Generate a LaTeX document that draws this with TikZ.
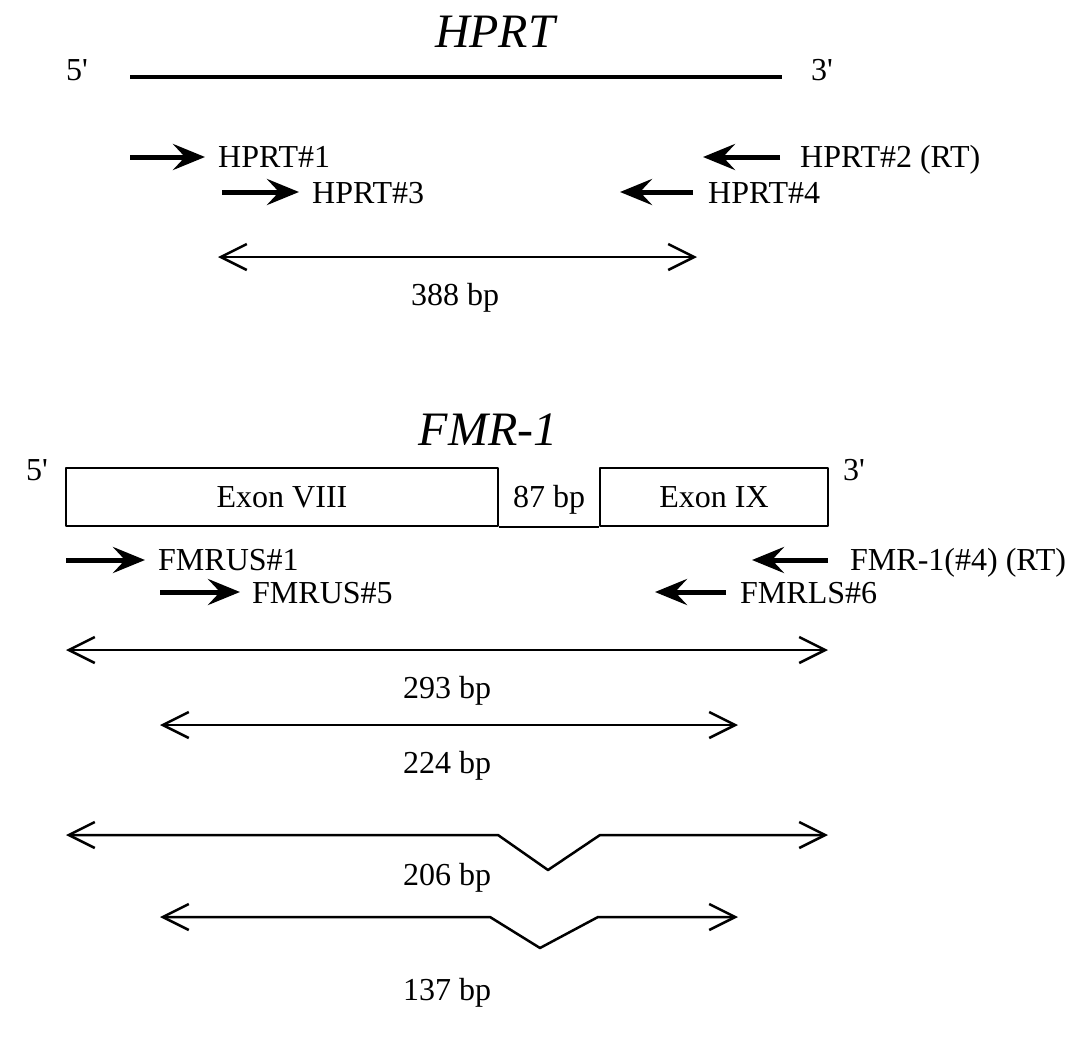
\documentclass[tikz,border=0pt]{standalone}
\usepackage{fontspec}
\setmainfont{Liberation Serif}[Ligatures=TeXOff]
\usetikzlibrary{arrows.meta}

\begin{document}
\begin{tikzpicture}[x=1pt,y=-1pt,line join=round,
		primer/.style={line width=5pt,-{Stealth[length=32pt,width=26pt,inset=12pt]}},
		span/.style={line width=2.5pt,
			{Straight Barb[length=26pt,width=26pt]}-{Straight Barb[length=26pt,width=26pt]}}]
		\tikzstyle{gene}=[font=\fontsize{48}{56}\selectfont\itshape,anchor=base];
		\tikzstyle{lbl}=[font=\fontsize{32}{38}\selectfont,inner sep=0pt];
		\tikzstyle{exon}=[rectangle,draw,line width=1.5pt,minimum height=58pt,
			font=\fontsize{32}{38}\selectfont];
		\useasboundingbox(0,0)rectangle(1088,1039);

		% HPRT
		\node[gene](h0)at(495,47){HPRT};
		\node[lbl,anchor=base](h5)at(77,80){5'};
		\node[lbl,anchor=base](h3)at(822,80){3'};
		\coordinate(hl)at(130,77);\coordinate(hr)at(782,77);
		\draw[line width=4pt](hl)--(hr);

		\node[lbl,anchor=base west](hp1)at(218,167){HPRT\#1};
		\node[lbl,anchor=base west](hp3)at(312,203){HPRT\#3};
		\node[lbl,anchor=base west](hp2)at(800,167){HPRT\#2 (RT)};
		\node[lbl,anchor=base west](hp4)at(708,203){HPRT\#4};
		\coordinate(u1)at(130,157);\coordinate(u3)at(222,192);
		\coordinate(l2)at(703,157);\coordinate(l4)at(620,192);
		\draw[primer,shorten >=13pt](u1)--(u1-|hp1.west);
		\draw[primer,shorten >=13pt](u3)--(u3-|hp3.west);
		\draw[primer,shorten <=20pt](l2-|hp2.west)--(l2);
		\draw[primer,shorten <=15pt](l4-|hp4.west)--(l4);

		\coordinate(s0l)at(218,257);\coordinate(s0r)at(697,257);
		\draw[span](s0l)--(s0r);
		\node[lbl,anchor=base](s0)at(455,305){388 bp};

		% FMR-1
		\node[gene](f0)at(488,445){FMR-1};
		\node[lbl,anchor=base](f5)at(37,480){5'};
		\node[lbl,anchor=base](f3)at(854,480){3'};
		\node[exon,minimum width=432pt](ex8)at(282,497){Exon VIII};
		\node[exon,minimum width=228pt](ex9)at(714,497){Exon IX};
		\draw[line width=1.5pt](ex8.south east)--(ex9.south west);
		\node[lbl,anchor=base](in)at(549,507){87 bp};

		\node[lbl,anchor=base west](fp1)at(158,570){FMRUS\#1};
		\node[lbl,anchor=base west](fp5)at(252,603){FMRUS\#5};
		\node[lbl,anchor=base west](fp4)at(850,570){FMR-1(\#4) (RT)};
		\node[lbl,anchor=base west](fp6)at(740,603){FMRLS\#6};
		\coordinate(v1)at(66,560);\coordinate(v5)at(160,592);
		\coordinate(m4)at(752,560);\coordinate(m6)at(655,592);
		\draw[primer,shorten >=13pt](v1)--(v1-|fp1.west);
		\draw[primer,shorten >=12pt](v5)--(v5-|fp5.west);
		\draw[primer,shorten <=22pt](m4-|fp4.west)--(m4);
		\draw[primer,shorten <=14pt](m6-|fp6.west)--(m6);

		% products
		\coordinate(s1l)at(66,650);\coordinate(s1r)at(828,650);
		\draw[span](s1l)--(s1r);
		\node[lbl,anchor=base](s1)at(447,698){293 bp};

		\coordinate(s2l)at(160,725);\coordinate(s2r)at(738,725);
		\draw[span](s2l)--(s2r);
		\node[lbl,anchor=base](s2)at(447,773){224 bp};

		\coordinate(s3l)at(66,835);\coordinate(s3r)at(828,835);
		\coordinate(k3a)at(498,835);\coordinate(k3b)at(548,870);\coordinate(k3c)at(600,835);
		\draw[span](s3l)--(k3a)--(k3b)--(k3c)--(s3r);
		\node[lbl,anchor=base](s3)at(447,885){206 bp};

		\coordinate(s4l)at(160,917);\coordinate(s4r)at(738,917);
		\coordinate(k4a)at(490,917);\coordinate(k4b)at(540,948);\coordinate(k4c)at(598,917);
		\draw[span](s4l)--(k4a)--(k4b)--(k4c)--(s4r);
		\node[lbl,anchor=base](s4)at(447,1000){137 bp};
	\end{tikzpicture}
\end{document}
